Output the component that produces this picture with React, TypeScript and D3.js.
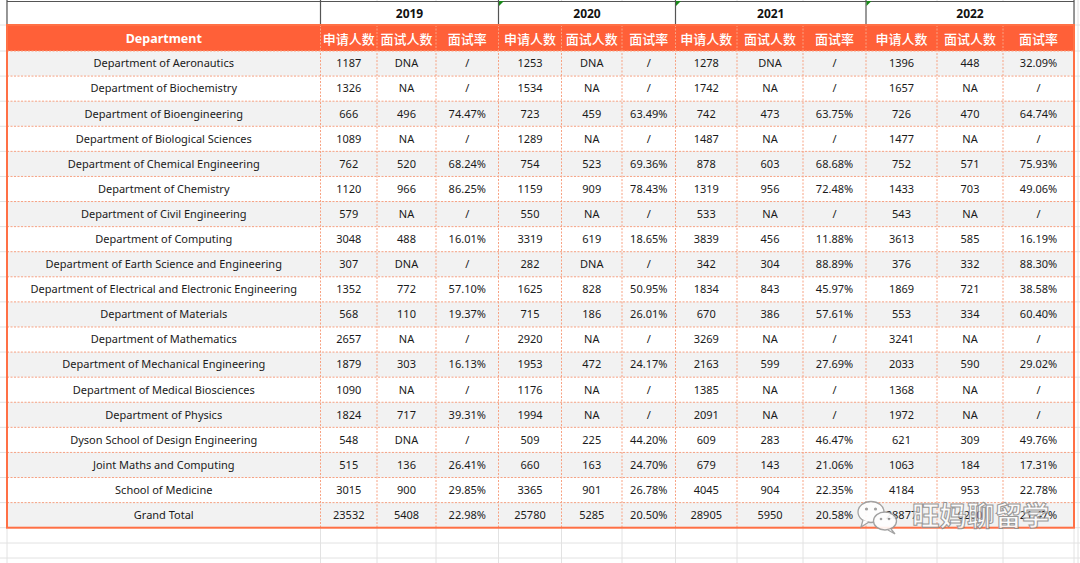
import React from "react";
import * as d3 from "d3";

const departments = [
  "Department of Aeronautics",
  "Department of Biochemistry",
  "Department of Bioengineering",
  "Department of Biological Sciences",
  "Department of Chemical Engineering",
  "Department of Chemistry",
  "Department of Civil Engineering",
  "Department of Computing",
  "Department of Earth Science and Engineering",
  "Department of Electrical and Electronic Engineering",
  "Department of Materials",
  "Department of Mathematics",
  "Department of Mechanical Engineering",
  "Department of Medical Biosciences",
  "Department of Physics",
  "Dyson School of Design Engineering",
  "Joint Maths and Computing",
  "School of Medicine",
  "Grand Total",
];

const years = ["2019", "2020", "2021", "2022"];
const subHeaders = ["申请人数", "面试人数", "面试率"];

const apps2019 = ["1187","1326","666","1089","762","1120","579","3048","307","1352","568","2657","1879","1090","1824","548","515","3015","23532"];
const interviews2019 = ["DNA","NA","496","NA","520","966","NA","488","DNA","772","110","NA","303","NA","717","DNA","136","900","5408"];
const rate2019 = ["/","/","74.47%","/","68.24%","86.25%","/","16.01%","/","57.10%","19.37%","/","16.13%","/","39.31%","/","26.41%","29.85%","22.98%"];

const apps2020 = ["1253","1534","723","1289","754","1159","550","3319","282","1625","715","2920","1953","1176","1994","509","660","3365","25780"];
const interviews2020 = ["DNA","NA","459","NA","523","909","NA","619","DNA","828","186","NA","472","NA","NA","225","163","901","5285"];
const rate2020 = ["/","/","63.49%","/","69.36%","78.43%","/","18.65%","/","50.95%","26.01%","/","24.17%","/","/","44.20%","24.70%","26.78%","20.50%"];

const apps2021 = ["1278","1742","742","1487","878","1319","533","3839","342","1834","670","3269","2163","1385","2091","609","679","4045","28905"];
const interviews2021 = ["DNA","NA","473","NA","603","956","NA","456","304","843","386","NA","599","NA","NA","283","143","904","5950"];
const rate2021 = ["/","/","63.75%","/","68.68%","72.48%","/","11.88%","88.89%","45.97%","57.61%","/","27.69%","/","/","46.47%","21.06%","22.35%","20.58%"];

const apps2022 = ["1396","1657","726","1477","752","1433","543","3613","376","1869","553","3241","2033","1368","1972","621","1063","4184","28877"];
const interviews2022 = ["448","NA","470","NA","571","703","NA","585","332","721","334","NA","590","NA","NA","309","184","953","6200"];
const rate2022 = ["32.09%","/","64.74%","/","75.93%","49.06%","/","16.19%","88.30%","38.58%","60.40%","/","29.02%","/","/","49.76%","17.31%","22.78%","21.47%"];

const watermarkText = "旺妈聊留学";

// layout
const W = 1080;
const H = 563;
const colEdges = [7, 320.5, 377, 436, 498.5, 561.5, 622, 675.5, 737, 803, 866, 937, 1003, 1074];
const yearTop = 1;
const headTop = 25;
const bodyTop = 51;
const bodyBottom = 527.7;

const ORANGE = "#FF6038";
const BORDER = "#FF7045";
const DASH = "#F7A283";
const GRID = "#E2E2E2";
const FONT = "'Noto Sans', 'Noto Sans CJK SC', sans-serif";
const CJK = "'Noto Sans CJK SC', sans-serif";

export default function App() {
  const yearData = [
    [apps2019, interviews2019, rate2019],
    [apps2020, interviews2020, rate2020],
    [apps2021, interviews2021, rate2021],
    [apps2022, interviews2022, rate2022],
  ];
  const columns: string[][] = [departments];
  yearData.forEach((yd) => yd.forEach((c) => columns.push(c)));

  const y = d3.scaleBand<number>().domain(d3.range(departments.length)).range([bodyTop, bodyBottom]).padding(0);
  const colIdx = d3.range(columns.length);
  const xLeft = d3.scaleOrdinal<number, number>().domain(colIdx).range(colEdges.slice(0, -1));
  const xRight = d3.scaleOrdinal<number, number>().domain(colIdx).range(colEdges.slice(1));
  const xMid = (i: number) => (xLeft(i) + xRight(i)) / 2;

  const gridRows: number[] = [headTop, bodyTop];
  d3.range(departments.length).forEach((i) => gridRows.push(y(i)! + y.bandwidth()));
  gridRows.push(543, 558);

  const left = colEdges[0];
  const right = colEdges[colEdges.length - 1];

  return (
    <svg width={W} height={H} style={{ position: "absolute", left: 0, top: 0, background: "#fff" }}>
      <rect x={0} y={0} width={W} height={H} fill="#fff" />
      {colEdges.concat([1078]).map((x, i) => (
        <line key={"gv" + i} x1={x} x2={x} y1={0} y2={H} stroke={GRID} strokeWidth={1} />
      ))}
      {gridRows.map((gy, i) => (
        <line key={"gh" + i} x1={0} x2={W} y1={gy} y2={gy} stroke={GRID} strokeWidth={1} />
      ))}

      {/* year header row */}
      <rect x={left} y={yearTop} width={right - left} height={headTop - yearTop} fill="#fff" />
      <line x1={left} x2={right} y1={yearTop + 0.5} y2={yearTop + 0.5} stroke="#555" strokeWidth={1.2} />
      {[0, 1, 4, 7, 10, 13].map((ci) => (
        <line key={"yv" + ci} x1={colEdges[ci]} x2={colEdges[ci]} y1={0} y2={headTop} stroke="#555" strokeWidth={1.2} />
      ))}
      {years.map((yr, k) => {
        const a = 1 + k * 3;
        const cx = (xLeft(a) + xRight(a + 2)) / 2;
        return (
          <text key={"yr" + yr} x={cx} y={(yearTop + headTop) / 2 + 1} dy="0.35em" textAnchor="middle"
            fontFamily={FONT} fontSize={12} fontWeight={700} fill="#111">{yr}</text>
        );
      })}
      {[4, 7, 10].map((ci) => (
        <path key={"tri" + ci} d={`M${colEdges[ci] + 0.5},${yearTop} l5,0 l-5,5 z`} fill="#1a8a1a" />
      ))}

      {/* header row */}
      <rect x={left} y={headTop} width={right - left} height={bodyTop - headTop} fill={ORANGE} />
      <text x={xMid(0)} y={(headTop + bodyTop) / 2 + 1} dy="0.35em" textAnchor="middle" fontFamily={FONT}
        fontSize={12.5} fontWeight={700} fill="#fff">Department</text>
      {colIdx.slice(1).map((ci) => (
        <text key={"sh" + ci} x={xMid(ci)} y={(headTop + bodyTop) / 2 + 1} dy="0.35em" textAnchor="middle"
          fontFamily={CJK} fontSize={13} fontWeight={500} fill="#fff">{subHeaders[(ci - 1) % 3]}</text>
      ))}

      {/* body rows */}
      {departments.map((_, r) => (
        <rect key={"rb" + r} x={left} y={y(r)!} width={right - left} height={y.bandwidth()}
          fill={r % 2 === 0 ? "#F2F2F2" : "#FFFFFF"} />
      ))}
      {columns.map((col, ci) =>
        col.map((v, r) => (
          <text key={"c" + ci + "-" + r} x={xMid(ci)} y={y(r)! + y.bandwidth() / 2} dy="0.35em" textAnchor="middle"
            fontFamily={FONT} fontSize={11} fill="#1a1a1a">{v}</text>
        ))
      )}

      {/* dashed inner lines */}
      {colEdges.slice(1, -1).map((x, i) => (
        <line key={"dv" + i} x1={x} x2={x} y1={headTop} y2={bodyBottom} stroke={DASH} strokeWidth={1} strokeDasharray="2,1.5" />
      ))}
      {departments.slice(0, -1).map((_, r) => (
        <line key={"dh" + r} x1={left} x2={right} y1={y(r)! + y.bandwidth()} y2={y(r)! + y.bandwidth()}
          stroke={DASH} strokeWidth={1} strokeDasharray="2,1.5" />
      ))}
      <line x1={left} x2={right} y1={bodyTop} y2={bodyTop} stroke={DASH} strokeWidth={1} strokeDasharray="2,1.5" />

      {/* outer border */}
      <rect x={left} y={headTop} width={right - left} height={bodyBottom - headTop} fill="none" stroke={BORDER} strokeWidth={2} />

      {/* watermark */}
      <g opacity={0.9}>
        <g transform="translate(858,500)" fill="#fff" stroke="#9a9a9a" strokeWidth={1.3}>
          <ellipse cx={13} cy={12} rx={13} ry={10.5} />
          <path d="M5,20 L3,27 L11,22" />
          <ellipse cx={27} cy={21} rx={11.5} ry={9} />
          <path d="M33,29 L37,34 L30,30" />
          <circle cx={8.5} cy={9} r={1.6} fill="#9a9a9a" stroke="none" />
          <circle cx={17.5} cy={9} r={1.6} fill="#9a9a9a" stroke="none" />
          <circle cx={23} cy={19} r={1.3} fill="#9a9a9a" stroke="none" />
          <circle cx={31} cy={19} r={1.3} fill="#9a9a9a" stroke="none" />
        </g>
        <text x={912} y={516} dy="0.35em" fontFamily={CJK} fontSize={27.5} fontWeight={700}
          fill="#ffffff" stroke="#8e8e8e" strokeWidth={1} fillOpacity={0.85}>{watermarkText}</text>
      </g>
    </svg>
  );
}
